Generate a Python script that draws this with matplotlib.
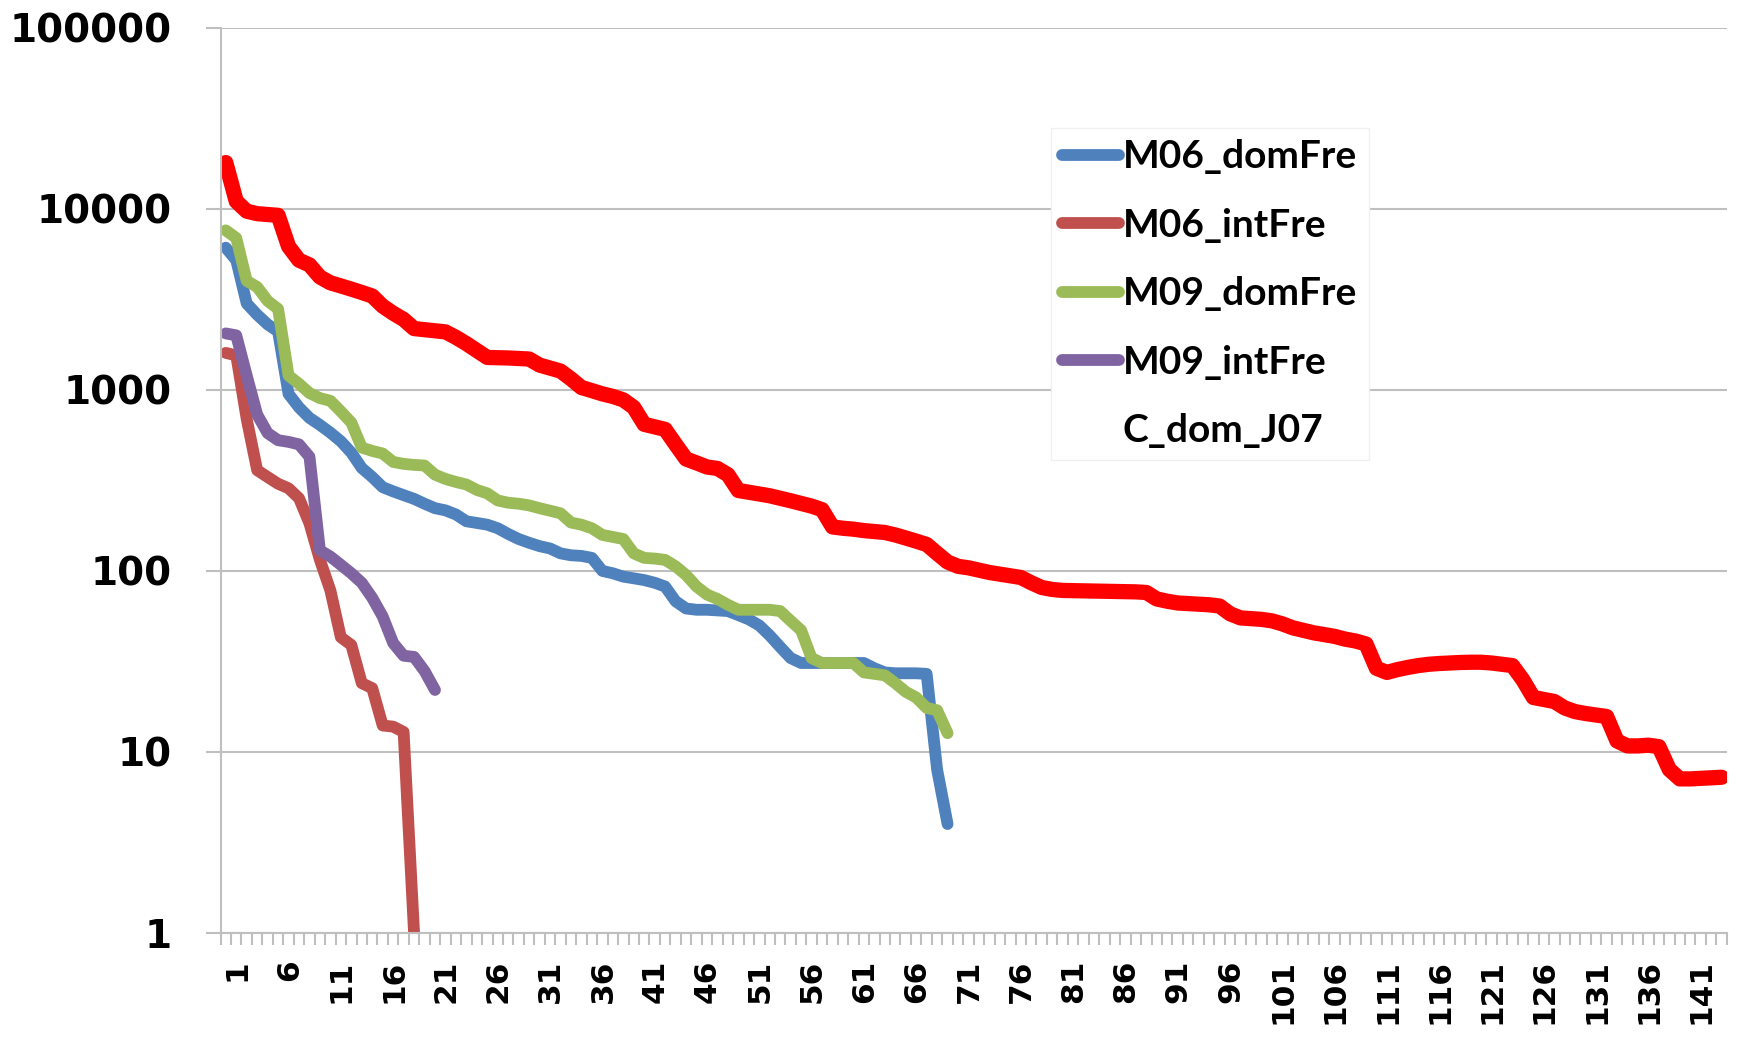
import matplotlib
matplotlib.use("Agg")
import matplotlib.pyplot as plt
from matplotlib.ticker import NullLocator
from matplotlib.transforms import ScaledTranslation

# values (log scale)
c_dom_j07 = [
    18000, 11000, 9700, 9400, 9300, 9200, 6200, 5200, 4900, 4200,
    3900, 3750, 3600, 3450, 3300, 2900, 2650, 2450, 2180, 2150,
    2120, 2090, 1950, 1800, 1650, 1510, 1505, 1500, 1490, 1480,
    1370, 1320, 1270, 1150, 1030, 990, 950, 920, 880, 800,
    645, 625, 605, 500, 415, 395, 375, 368, 340, 278,
    272, 266, 260, 252, 244, 236, 228, 218, 175, 172,
    170, 167, 165, 163, 158, 152, 146, 140, 125, 112,
    106, 104, 101, 98, 96, 94, 92, 86, 81, 79,
    78, 77.8, 77.6, 77.4, 77.2, 77, 76.8, 76.6, 76, 70,
    68, 66.5, 66, 65.5, 65, 64, 58, 55, 54.5, 54,
    53, 51, 48.5, 47, 45.5, 44.5, 43.5, 42, 41, 39.5,
    29, 27.5, 28.5, 29.3, 30, 30.5, 30.8, 31, 31.2, 31.3,
    31.3, 31, 30.5, 30, 25, 20, 19.5, 19, 17.5, 16.7,
    16.3, 16, 15.7, 11.5, 10.8, 10.8, 10.9, 10.7, 8, 7.1,
    7.1, 7.15, 7.2, 7.25,
]
m06_domfre = [
    6100, 5200, 3000, 2600, 2300, 2100, 950, 800, 700, 640,
    580, 520, 450, 370, 330, 290, 275, 262, 250, 235,
    222, 216, 205, 188, 184, 180, 172, 160, 150, 143,
    137, 133, 125, 122, 121, 118, 100, 97, 93, 91,
    89, 86, 82, 68, 62, 61, 61, 60.5, 60, 57,
    54, 50, 44, 38, 33, 31, 31, 31, 31, 31,
    31, 31, 29, 27.5, 27.2, 27.2, 27.2, 27, 8, 4,
]
m09_domfre = [
    7600, 6900, 4000, 3700, 3100, 2800, 1200, 1080, 960, 900,
    870, 760, 660, 480, 460, 445, 400, 390, 385, 382,
    340, 322, 310, 300, 280, 268, 245, 238, 235, 230,
    222, 215, 208, 185, 180, 172, 158, 154, 150, 125,
    118, 117, 115, 106, 95, 82, 74, 70, 65, 61,
    61, 61, 61, 60, 53, 47, 33, 31, 31, 31,
    31, 27.5, 27, 26.5, 24, 21.5, 20, 17.5, 17, 12.7,
]
m09_intfre = [2050, 2000, 1200, 730, 577, 527, 516, 500, 427, 130,
              120, 108, 97, 86, 71, 56, 40, 34, 33.5, 28, 22]
m06_intfre = [1600, 1550, 690, 360, 330, 303, 286, 252, 183, 115,
              78, 43, 39, 24, 22.5, 14, 13.8, 12.9, 1]

series_names = ["M06_domFre", "M06_intFre", "M09_domFre", "M09_intFre", "C_dom_J07"]
series_colors = ["#4F81BD", "#C0504D", "#9BBB59", "#8064A2", "#FF0000"]

y_ticks = [1, 10, 100, 1000, 10000, 100000]
y_labels = ["1", "10", "100", "1000", "10000", "100000"]
x_label_pos = [1, 6, 11, 16, 21, 26, 31, 36, 41, 46, 51, 56, 61, 66, 71,
               76, 81, 86, 91, 96, 101, 106, 111, 116, 121, 126, 131, 136, 141]
x_labels = [str(v) for v in x_label_pos]

grid_col = "#BFBFBF"

fig = plt.figure(figsize=(17.38, 10.39), dpi=100)
ax = fig.add_axes([0.1269, 0.102, 0.8667, 0.8713])

all_series = [m06_domfre, m06_intfre, m09_domfre, m09_intfre, c_dom_j07]
handles = []
for vals, name, col in zip(all_series, series_names, series_colors):
    lw = 11 if name == "C_dom_J07" else 8.5
    xs = list(range(1, len(vals) + 1))
    line, = ax.plot(xs, vals, color=col, lw=lw, label=name,
                    solid_capstyle="round", solid_joinstyle="round")
    handles.append(line)

ax.set_yscale("log")
ax.set_ylim(1, 100000)
ax.set_xlim(0.5, len(c_dom_j07) + 0.5)

ax.yaxis.grid(True, which="major", color=grid_col, lw=1.5)
ax.set_axisbelow(True)
for side in ["top", "right"]:
    ax.spines[side].set_visible(False)
for side in ["left", "bottom"]:
    ax.spines[side].set_color(grid_col)
    ax.spines[side].set_linewidth(1.5)

ax.set_yticks(y_ticks)
ax.set_yticklabels(y_labels, fontsize=28, fontweight="bold", family="DejaVu Sans")
ax.yaxis.set_minor_locator(NullLocator())
ax.tick_params(axis="y", which="major", length=11, width=1.5, color=grid_col, pad=24)

ax.set_xticks(x_label_pos)
ax.set_xticklabels(x_labels, rotation=90, fontsize=22.5, fontweight="bold",
                   family="DejaVu Sans")
ax.set_xticks([k + 0.5 for k in range(len(c_dom_j07) + 1)], minor=True)
ax.tick_params(axis="x", which="major", length=0, pad=19)
ax.tick_params(axis="x", which="minor", length=8.5, width=1.5, color=grid_col)
# Excel draws the rotated labels a little right of the category centre
shift = ScaledTranslation(8 / 72, 0, fig.dpi_scale_trans)
for lbl in ax.get_xticklabels():
    lbl.set_transform(lbl.get_transform() + shift)

leg = ax.legend(handles, series_names, loc="upper left",
                bbox_to_anchor=(0.6045, 0.877), bbox_transform=fig.transFigure,
                prop={"family": "Lato", "weight": "bold", "size": 28},
                handlelength=1.45, handletextpad=0.1, labelspacing=0.86,
                borderpad=0.3, borderaxespad=0, fancybox=False, framealpha=1)
leg.get_frame().set_edgecolor("#F0F0F0")
leg.get_frame().set_facecolor("white")
leg.get_lines()[4].set_visible(False)

fig.savefig("out.png", dpi=100)
